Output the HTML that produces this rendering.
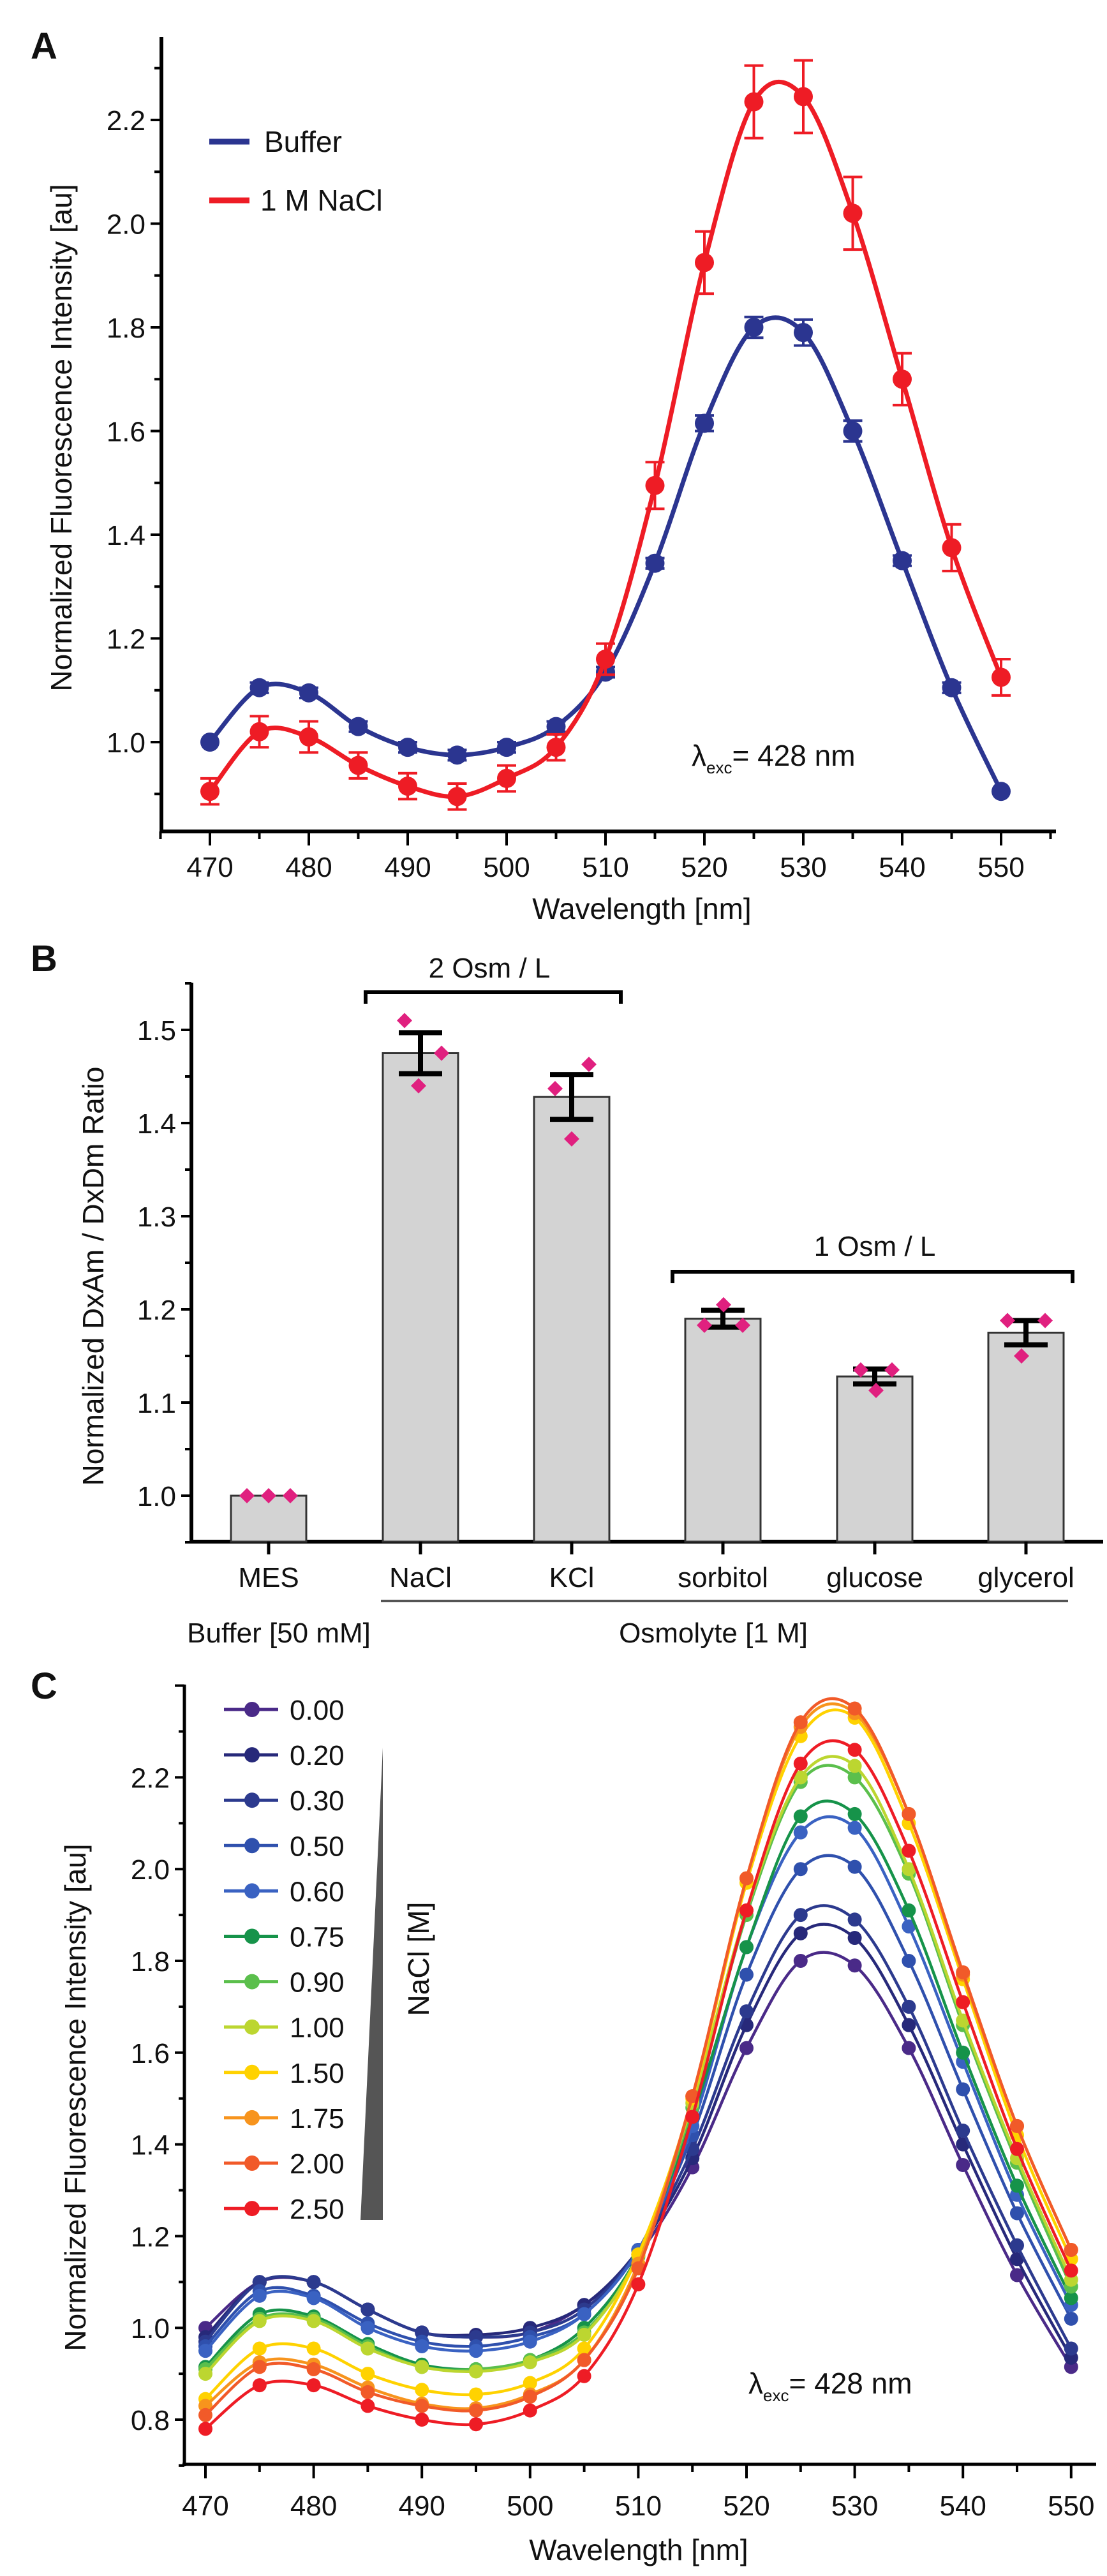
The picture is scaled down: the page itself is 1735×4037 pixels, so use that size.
<!DOCTYPE html>
<html><head><meta charset="utf-8"><style>
html,body{margin:0;padding:0;background:#fff}
svg{display:block}
text{font-family:"Liberation Sans",Arial,sans-serif;fill:#111}
</style></head><body>
<svg id="s" width="1735" height="4037" viewBox="0 0 1735 4037" xmlns="http://www.w3.org/2000/svg">
<rect width="1735" height="4037" fill="#fff"/>
<text x="48" y="92" font-size="58" font-weight="bold">A</text>
<text transform="translate(112,686) rotate(-90)" font-size="46" text-anchor="middle">Normalized Fluorescence Intensity [au]</text>
<text x="1006" y="1440" font-size="46" text-anchor="middle">Wavelength [nm]</text>
<line x1="328" y1="222" x2="391" y2="222" stroke="#2b3590" stroke-width="9"/>
<text x="414" y="238" font-size="46">Buffer</text>
<line x1="328" y1="314" x2="391" y2="314" stroke="#ee1c25" stroke-width="9"/>
<text x="408" y="330" font-size="46">1 M NaCl</text>
<text x="1084" y="1200" font-size="46">λ<tspan font-size="26" dy="12">exc</tspan><tspan dy="-12">= 428 nm</tspan></text>

<text x="48" y="1522" font-size="58" font-weight="bold">B</text>
<text transform="translate(162,2000) rotate(-90)" font-size="46" text-anchor="middle">Normalized DxAm / DxDm Ratio</text>
<text x="767" y="1532" font-size="44" text-anchor="middle">2 Osm / L</text>
<text x="1371" y="1968" font-size="44" text-anchor="middle">1 Osm / L</text>
<g font-size="44" text-anchor="middle">
<text x="421" y="2487">MES</text><text x="659" y="2487">NaCl</text><text x="896" y="2487">KCl</text>
<text x="1133" y="2487">sorbitol</text><text x="1371" y="2487">glucose</text><text x="1608" y="2487">glycerol</text>
<text x="437" y="2574">Buffer [50 mM]</text><text x="1118" y="2574">Osmolyte [1 M]</text>
</g>
<line x1="597" y1="2509" x2="1674" y2="2509" stroke="#555" stroke-width="4"/>

<text x="48" y="2662" font-size="58" font-weight="bold">C</text>
<text transform="translate(134,3287) rotate(-90)" font-size="46" text-anchor="middle">Normalized Fluorescence Intensity [au]</text>
<text x="1001" y="4012" font-size="46" text-anchor="middle">Wavelength [nm]</text>
<text x="1173" y="3751" font-size="46">λ<tspan font-size="26" dy="12">exc</tspan><tspan dy="-12">= 428 nm</tspan></text>
<polygon points="600,2739 600,3479 565,3479" fill="#555"/>
<text transform="translate(672,3070) rotate(-90)" font-size="46" text-anchor="middle">NaCl [M]</text>
<g id="legC" font-size="44"></g>
<g id="dyn"></g>
</svg>
<script>
var NS="http://www.w3.org/2000/svg",g=document.getElementById('dyn');
function el(t,a,p){var e=document.createElementNS(NS,t);for(var k in a)e.setAttribute(k,a[k]);(p||g).appendChild(e);return e;}
function txt(x,y,s,fs,anc){var e=el('text',{x:x,y:y,'font-size':fs,'text-anchor':anc||'middle'});e.textContent=s;return e;}
function cr(P){var d='M'+P[0][0]+','+P[0][1];for(var i=0;i<P.length-1;i++){var p0=P[i-1]||P[i],p1=P[i],p2=P[i+1],p3=P[i+2]||p2;
d+=' C'+(p1[0]+(p2[0]-p0[0])/6)+','+(p1[1]+(p2[1]-p0[1])/6)+' '+(p2[0]-(p3[0]-p1[0])/6)+','+(p2[1]-(p3[1]-p1[1])/6)+' '+p2[0]+','+p2[1];}return d;}
var W=[];for(var w=470;w<=550;w+=5)W.push(w);
function xA(w){return 329+(w-470)*15.5}function yA(v){return 1163-(v-1)*812.5}
el('line',{x1:253,y1:58,x2:253,y2:1306,stroke:'#000','stroke-width':6});
el('line',{x1:250,y1:1303,x2:1655,y2:1303,stroke:'#000','stroke-width':6});
for(var v=9;v<=23;v++){var y=yA(v/10),maj=(v%2==0);el('line',{x1:maj?236:242,y1:y,x2:253,y2:y,stroke:'#000','stroke-width':4});
 if(maj&&v<=22)txt(228,y+16,(v/10).toFixed(1),44,'end');}
for(var w=465;w<=555;w+=5){var x=xA(w),maj=(w%10==0);el('line',{x1:x,y1:1303,x2:x,y2:maj?1325:1315,stroke:'#000','stroke-width':4});
 if(maj&&w>=470&&w<=550)txt(x,1374,w,44);}
var bA=[1.0,1.105,1.095,1.03,0.99,0.975,0.99,1.03,1.135,1.345,1.615,1.80,1.79,1.60,1.35,1.105,0.905];
var rA=[0.905,1.02,1.01,0.955,0.915,0.895,0.93,0.99,1.16,1.495,1.925,2.235,2.245,2.02,1.70,1.375,1.125];
var eB=[0,.01,.01,.01,.01,.01,.01,.01,.01,.01,.015,.02,.025,.02,.01,.01,0];
var eR=[.025,.03,.03,.025,.025,.025,.025,.025,.03,.045,.06,.07,.07,.07,.05,.045,.035];
function seriesA(d,e,c){var P=W.map(function(w,i){return[xA(w),yA(d[i])]});
 el('path',{d:cr(P),fill:'none',stroke:c,'stroke-width':7});
 P.forEach(function(p,i){if(e[i]>0){var a=yA(d[i]+e[i]),b=yA(d[i]-e[i]);el('path',{d:'M'+p[0]+','+a+'V'+b+'M'+(p[0]-15)+','+a+'h30M'+(p[0]-15)+','+b+'h30',stroke:c,'stroke-width':4,fill:'none'});}
 el('circle',{cx:p[0],cy:p[1],r:15,fill:c});});}
seriesA(bA,eB,'#2b3590');seriesA(rA,eR,'#ee1c25');
function yB(v){return 2344-(v-1)*1460}
el('line',{x1:300,y1:1540,x2:300,y2:2419,stroke:'#000','stroke-width':6});
el('line',{x1:297,y1:2416,x2:1729,y2:2416,stroke:'#000','stroke-width':6});
for(var k=19;k<=31;k++){var v=k/20,y=yB(v),maj=(k%2==0);el('line',{x1:maj?284:290,y1:y,x2:300,y2:y,stroke:'#000','stroke-width':4});
 if(maj)txt(276,y+16,v.toFixed(1),44,'end');}
var BX=[421,659,896,1133,1371,1608],BV=[1.0,1.475,1.428,1.19,1.128,1.175],BE=[0,.022,.024,.009,.008,.013];
var DM=[[[-34,1],[0,1],[34,1]],[[-25,1.51],[33,1.475],[-3,1.44]],[[27,1.463],[-26,1.437],[0,1.383]],[[1,1.205],[-29,1.183],[31,1.183]],[[-22,1.135],[27,1.135],[2,1.113]],[[-29,1.188],[30,1.188],[-7,1.15]]];
BX.forEach(function(x,i){var t=yB(BV[i]);el('rect',{x:x-59,y:t,width:118,height:2416-t,fill:'#d3d3d3',stroke:'#333','stroke-width':3});
 el('line',{x1:x,y1:2416,x2:x,y2:2436,stroke:'#000','stroke-width':5});
 if(BE[i]>0){var a=yB(BV[i]+BE[i]),b=yB(BV[i]-BE[i]);el('path',{d:'M'+x+','+a+'V'+b+'M'+(x-34)+','+a+'h68M'+(x-34)+','+b+'h68',stroke:'#000','stroke-width':8,fill:'none'});}
 DM[i].forEach(function(d){var cx=x+d[0],cy=yB(d[1]);el('polygon',{points:(cx)+','+(cy-12)+' '+(cx+12)+','+cy+' '+cx+','+(cy+12)+' '+(cx-12)+','+cy,fill:'#e0207f'});});});
el('path',{d:'M573,1573V1555H973V1573',fill:'none',stroke:'#000','stroke-width':6});
el('path',{d:'M1054,2011V1993H1681V2011',fill:'none',stroke:'#000','stroke-width':6});
function xC(w){return 322+(w-470)*16.96}function yC(v){return 3792-(v-0.8)*719}
el('line',{x1:289,y1:2640,x2:289,y2:3865,stroke:'#000','stroke-width':5});
el('line',{x1:286,y1:3862,x2:1718,y2:3862,stroke:'#000','stroke-width':5});
for(var k=7;k<=24;k++){var v=k/10,y=yC(v),maj=(k%2==0);el('line',{x1:maj?274:280,y1:y,x2:289,y2:y,stroke:'#000','stroke-width':4});
 if(maj&&k>=8&&k<=22)txt(266,y+16,v.toFixed(1),44,'end');}
for(var w=470;w<=550;w+=5){var x=xC(w),maj=(w%10==0);el('line',{x1:x,y1:3862,x2:x,y2:maj?3884:3874,stroke:'#000','stroke-width':4});
 if(maj)txt(x,3942,w,44);}
var C=[['0.00','#4a2a88',[1.00,1.10,1.10,1.04,0.99,0.98,0.99,1.05,1.16,1.35,1.61,1.80,1.79,1.61,1.355,1.115,0.915]],
['0.20','#27297a',[0.98,1.10,1.10,1.04,0.99,0.985,1.0,1.05,1.17,1.37,1.66,1.86,1.85,1.66,1.40,1.15,0.935]],
['0.30','#2c3a8e',[0.97,1.10,1.10,1.04,0.99,0.98,0.99,1.04,1.17,1.39,1.69,1.90,1.89,1.70,1.43,1.18,0.955]],
['0.50','#2f50ad',[0.96,1.08,1.07,1.01,0.97,0.96,0.98,1.03,1.17,1.42,1.77,2.00,2.005,1.80,1.52,1.25,1.02]],
['0.60','#3a62c2',[0.95,1.07,1.065,1.0,0.96,0.95,0.97,1.03,1.17,1.44,1.83,2.08,2.09,1.875,1.58,1.29,1.05]],
['0.75','#16934a',[0.915,1.03,1.025,0.965,0.92,0.91,0.93,1.0,1.16,1.46,1.83,2.115,2.12,1.91,1.60,1.31,1.065]],
['0.90','#5bbf4c',[0.91,1.02,1.02,0.96,0.915,0.91,0.93,0.99,1.155,1.48,1.90,2.19,2.20,1.99,1.66,1.36,1.09]],
['1.00','#bcd630',[0.90,1.015,1.015,0.955,0.915,0.905,0.925,0.985,1.16,1.49,1.91,2.20,2.225,2.0,1.67,1.37,1.105]],
['1.50','#ffd200',[0.845,0.955,0.955,0.90,0.865,0.855,0.88,0.955,1.16,1.50,1.97,2.29,2.33,2.10,1.76,1.42,1.15]],
['1.75','#f7941d',[0.83,0.925,0.92,0.87,0.835,0.825,0.855,0.93,1.14,1.505,1.98,2.31,2.34,2.12,1.77,1.44,1.17]],
['2.00','#f15a29',[0.81,0.915,0.91,0.86,0.83,0.82,0.85,0.93,1.13,1.505,1.98,2.32,2.35,2.12,1.775,1.44,1.17]],
['2.50','#ee1c25',[0.78,0.875,0.875,0.83,0.80,0.79,0.82,0.895,1.095,1.46,1.91,2.23,2.26,2.04,1.71,1.39,1.125]]];
var lg=document.getElementById('legC');
C.forEach(function(s,i){var P=W.map(function(w,j){return[xC(w),yC(s[2][j])]});
 el('path',{d:cr(P),fill:'none',stroke:s[1],'stroke-width':4.5});
 P.forEach(function(p){el('circle',{cx:p[0],cy:p[1],r:11,fill:s[1]});});
 var y=2679+i*71.1;el('line',{x1:351,y1:y,x2:436,y2:y,stroke:s[1],'stroke-width':5},lg);el('circle',{cx:395,cy:y,r:12,fill:s[1]},lg);
 var t=el('text',{x:454,y:y+16,'font-size':44},lg);t.textContent=s[0];});
</script>
</body></html>
